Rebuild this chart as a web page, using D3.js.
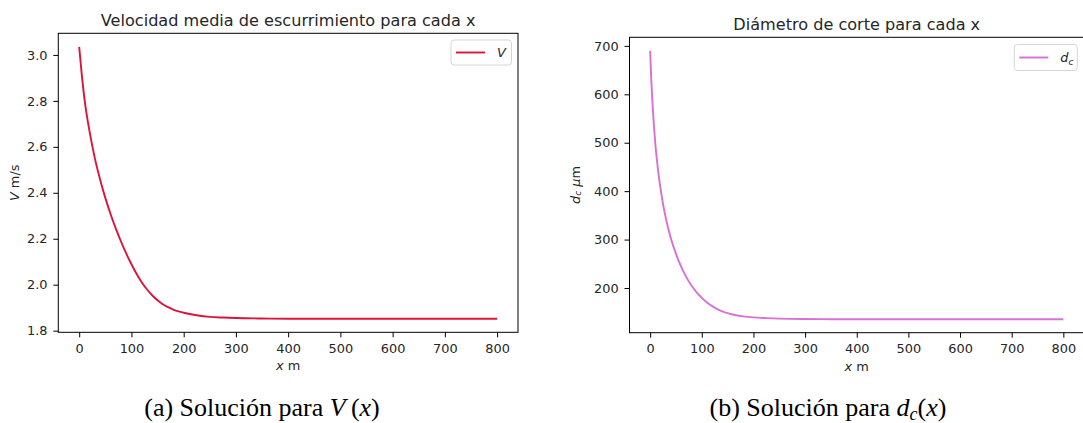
<!DOCTYPE html>
<html>
<head>
<meta charset="utf-8">
<script src="https://cdn.jsdelivr.net/npm/d3@7"></script>
<style>
  html, body { margin: 0; padding: 0; background: #ffffff; }
  svg { display: block; }
  .tick text { font-family: "DejaVu Sans", sans-serif; font-size: 12.9px; fill: #262626; }
  .tick line { stroke: #000; stroke-width: 1; }
</style>
</head>
<body>
<svg id="fig" width="1083" height="423"></svg>
<script>
// Distance along the channel (m)
const xV = [0, 5, 10, 20, 30, 40, 50, 60, 70, 80, 90, 100, 110, 120, 130, 140, 150, 160, 170, 180, 190, 200, 225, 250, 275, 300, 350, 400, 500, 600, 700, 800];
// Mean runoff velocity V (m/s)
const velocity = [3.035, 2.912, 2.81, 2.665, 2.55, 2.458, 2.378, 2.308, 2.245, 2.188, 2.136, 2.089, 2.047, 2.010, 1.979, 1.953, 1.932, 1.915, 1.902, 1.892, 1.884, 1.878, 1.867, 1.860, 1.857, 1.855, 1.853, 1.852, 1.852, 1.852, 1.852, 1.852];

// Distance along the channel (m)
const xD = [0, 2, 4, 6, 8, 10, 15, 20, 25, 30, 35, 40, 45, 50, 60, 70, 80, 90, 100, 110, 120, 130, 140, 150, 160, 180, 200, 225, 250, 300, 350, 400, 500, 600, 700, 800];
// Cut diameter d_c (µm)
const diameter = [690, 634, 592, 556, 525, 498, 446, 406, 373, 346, 323, 303, 286, 270.5, 244, 222.5, 205, 191, 179.5, 170, 162.5, 156.5, 151.7, 148, 145.2, 141.5, 139.3, 137.8, 136.8, 135.9, 135.6, 135.4, 135.4, 135.4, 135.4, 135.4];

const xTicks = [0, 100, 200, 300, 400, 500, 600, 700, 800];
const vTicks = [1.8, 2.0, 2.2, 2.4, 2.6, 2.8, 3.0];
const dTicks = [200, 300, 400, 500, 600, 700];

const svg = d3.select("#fig");
const SANS = "DejaVu Sans, sans-serif";
const SERIF = "Liberation Serif, Times New Roman, serif";

// auto limits with 5 % padding on both ends
function padded(values) {
  const [lo, hi] = d3.extent(values);
  const m = (hi - lo) * 0.05;
  return [lo - m, hi + m];
}

function panel(cfg) {
  const g = svg.append("g");
  const x = d3.scaleLinear().domain(padded(cfg.xs)).range([cfg.left, cfg.right]);
  const y = d3.scaleLinear().domain(padded(cfg.ys)).range([cfg.bottom, cfg.top]);

  const xa = g.append("g")
    .attr("transform", `translate(0,${cfg.bottom})`)
    .call(d3.axisBottom(x).tickValues(xTicks).tickFormat(d3.format("d")).tickSize(5).tickPadding(6.5));
  xa.select(".domain").remove();

  const ya = g.append("g")
    .attr("transform", `translate(${cfg.left},0)`)
    .call(d3.axisLeft(y).tickValues(cfg.yTicks).tickFormat(cfg.yFormat).tickSize(5).tickPadding(5.8));
  ya.select(".domain").remove();

  // data curve
  const data = cfg.xs.map((v, i) => [v, cfg.ys[i]]);
  g.append("path")
    .datum(data)
    .attr("fill", "none")
    .attr("stroke", cfg.color)
    .attr("stroke-width", 1.9)
    .attr("stroke-linejoin", "round")
    .attr("d", d3.line().x(d => x(d[0])).y(d => y(d[1])).curve(d3.curveMonotoneX));

  // frame
  g.append("rect")
    .attr("x", cfg.left).attr("y", cfg.top)
    .attr("width", cfg.right - cfg.left).attr("height", cfg.bottom - cfg.top)
    .attr("fill", "none").attr("stroke", "#000").attr("stroke-width", 1);

  // title
  g.append("text")
    .attr("x", (cfg.left + cfg.right) / 2).attr("y", cfg.top - 7.5)
    .attr("text-anchor", "middle")
    .style("font-family", SANS).style("font-size", "16.1px").style("fill", "#262626")
    .text(cfg.title);

  // x label
  const xl = g.append("text")
    .attr("x", (cfg.left + cfg.right) / 2).attr("y", cfg.xLabelY)
    .attr("text-anchor", "middle")
    .style("font-family", SANS).style("font-size", "12.9px").style("fill", "#262626");
  xl.append("tspan").style("font-style", "italic").text("x");
  xl.append("tspan").text(" m");

  // y label
  const yl = g.append("text")
    .attr("transform", `translate(${cfg.yLabelX},${(cfg.top + cfg.bottom) / 2}) rotate(-90)`)
    .attr("text-anchor", "middle")
    .attr("dominant-baseline", "central")
    .style("font-family", SANS).style("font-size", "12.9px").style("fill", "#262626");
  cfg.yLabel(yl);

  // legend
  const lg = cfg.legend;
  g.append("rect")
    .attr("x", lg.x).attr("y", lg.y).attr("width", lg.w).attr("height", lg.h)
    .attr("rx", 3).attr("ry", 3)
    .attr("fill", "#fff").attr("fill-opacity", 0.8)
    .attr("stroke", "#d6d6d6").attr("stroke-width", 1);
  g.append("line")
    .attr("x1", lg.x + 5).attr("x2", lg.x + 34)
    .attr("y1", lg.y + lg.h / 2).attr("y2", lg.y + lg.h / 2)
    .attr("stroke", cfg.color).attr("stroke-width", 1.9);
  const lt = g.append("text")
    .attr("x", lg.x + 46).attr("y", lg.y + lg.h / 2 + 4.6)
    .style("font-family", SANS).style("font-size", "12.9px").style("fill", "#262626");
  lg.label(lt);
}

panel({
  xs: xV, ys: velocity, yTicks: vTicks, yFormat: d3.format(".1f"),
  left: 58.3, right: 518, top: 33.3, bottom: 332.3,
  color: "#dc143c",
  title: "Velocidad media de escurrimiento para cada x",
  xLabelY: 370, yLabelX: 14,
  yLabel: t => { t.append("tspan").style("font-style", "italic").text("V"); t.append("tspan").text(" m/s"); },
  legend: { x: 451, y: 40, w: 60.5, h: 25,
            label: t => t.append("tspan").style("font-style", "italic").text("V") }
});

panel({
  xs: xD, ys: diameter, yTicks: dTicks, yFormat: d3.format("d"),
  left: 629.5, right: 1084, top: 37.3, bottom: 332.7,
  color: "#da70d6",
  title: "Diámetro de corte para cada x",
  xLabelY: 371, yLabelX: 575,
  yLabel: t => {
    t.append("tspan").style("font-style", "italic").text("d");
    t.append("tspan").style("font-style", "italic").style("font-size", "9px").attr("dy", 3).text("c");
    t.append("tspan").attr("dy", -3).text(" ");
    t.append("tspan").style("font-style", "italic").text("μ");
    t.append("tspan").text("m");
  },
  legend: { x: 1014.3, y: 44.5, w: 63, h: 26,
            label: t => {
              t.append("tspan").style("font-style", "italic").text("d");
              t.append("tspan").style("font-style", "italic").style("font-size", "9px").attr("dy", 3).text("c");
            } }
});

// subfigure captions
function caption(cx, build) {
  const t = svg.append("text")
    .attr("x", cx).attr("y", 416)
    .attr("text-anchor", "middle")
    .style("font-family", SERIF).style("font-size", "26px").style("fill", "#000");
  build(t);
}
caption(262, t => {
  t.append("tspan").text("(a) Solución para ");
  t.append("tspan").style("font-style", "italic").text("V");
  t.append("tspan").text("\u2009(");
  t.append("tspan").style("font-style", "italic").text("x");
  t.append("tspan").text(")");
});
caption(828, t => {
  t.append("tspan").text("(b) Solución para ");
  t.append("tspan").style("font-style", "italic").text("d");
  t.append("tspan").style("font-style", "italic").style("font-size", "18px").attr("dy", 4).text("c");
  t.append("tspan").attr("dy", -4).text("(");
  t.append("tspan").style("font-style", "italic").text("x");
  t.append("tspan").text(")");
});
</script>
</body>
</html>
